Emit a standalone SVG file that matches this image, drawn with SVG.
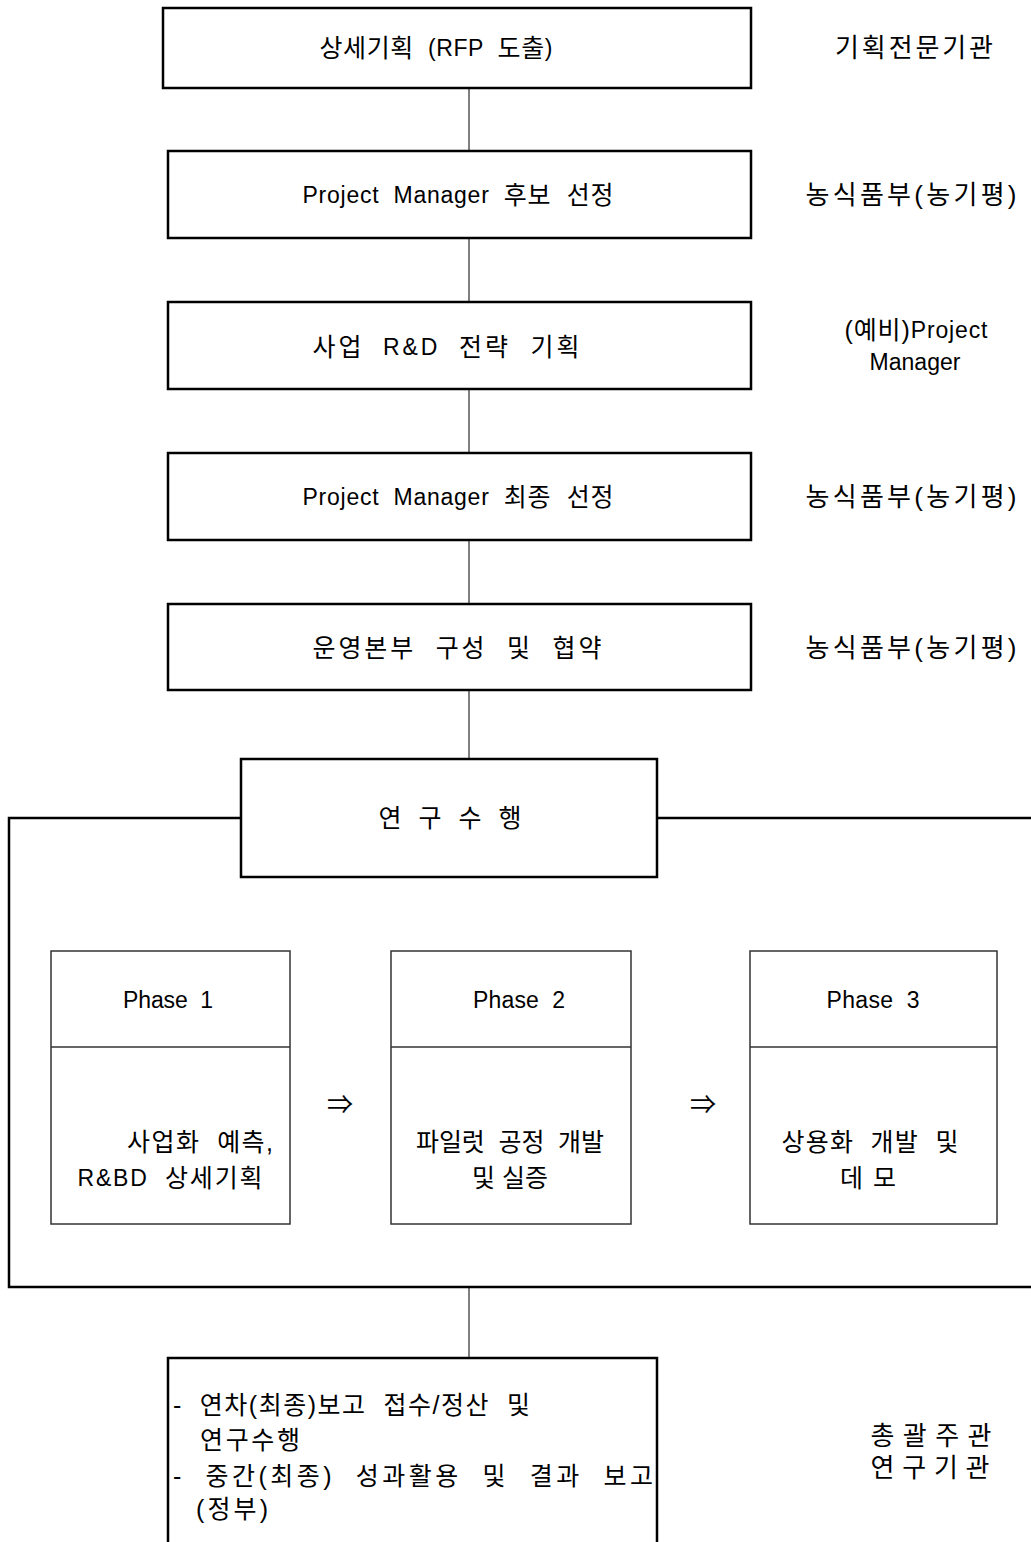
<svg xmlns="http://www.w3.org/2000/svg" width="1031" height="1542" viewBox="0 0 1031 1542">
<style>
text{font-family:"Liberation Sans","Noto Sans CJK KR",sans-serif;font-size:23px;fill:#000;white-space:pre;}
.k{font-size:25px;}
.c{text-anchor:middle;dominant-baseline:central;}
.l{dominant-baseline:central;font-size:25px;}
.lab{font-size:26px;}
.box{fill:#fff;stroke:#000;stroke-width:2.5;}
.ph{fill:#fff;stroke:#333;stroke-width:1.5;}
.ln{stroke:#000;stroke-width:1;fill:none;}
.big{stroke:#000;stroke-width:2.5;fill:none;}
</style>
<rect width="1031" height="1542" fill="#fff"/>
<g id="connectors">
<line class="ln" x1="469" y1="88" x2="469" y2="151"/>
<line class="ln" x1="469" y1="238" x2="469" y2="302"/>
<line class="ln" x1="469" y1="389" x2="469" y2="453"/>
<line class="ln" x1="469" y1="540" x2="469" y2="604"/>
<line class="ln" x1="469" y1="690" x2="469" y2="759"/>
<line class="ln" x1="469" y1="1287" x2="469" y2="1358"/>
</g>
<g id="frame">
<polyline class="big" points="241,818 9,818 9,1287 1040,1287"/>
<line class="big" x1="657" y1="818" x2="1040" y2="818"/>
</g>
<g id="n1"><rect class="box" x="163" y="8" width="588" height="80"/><text class="c" x="436" y="48" textLength="233"><tspan class="k">상세기획</tspan>  (RFP  <tspan class="k">도출</tspan>)</text></g>
<g id="n2"><rect class="box" x="168" y="151" width="583" height="87"/><text class="c" x="458" y="195" textLength="311">Project  Manager  <tspan class="k">후보  선정</tspan></text></g>
<g id="n3"><rect class="box" x="168" y="302" width="583" height="87"/><text class="c" x="446" y="347" textLength="267"><tspan class="k">사업</tspan>  R&amp;D  <tspan class="k">전략  기획</tspan></text></g>
<g id="n4"><rect class="box" x="168" y="453" width="583" height="87"/><text class="c" x="458" y="497" textLength="311">Project  Manager  <tspan class="k">최종  선정</tspan></text></g>
<g id="n5"><rect class="box" x="168" y="604" width="583" height="86"/><text class="c k" x="457" y="648" textLength="289">운영본부  구성  및  협약</text></g>
<g id="n6"><rect class="box" x="241" y="759" width="416" height="118"/><text class="c k" x="450" y="818" textLength="143">연  구  수  행</text></g>
<g id="p1"><rect class="ph" x="51" y="951" width="239" height="273"/><line class="ph" x1="51" y1="1047" x2="290" y2="1047"/><text class="c" x="168" y="1000" textLength="90">Phase  1</text><text class="c k" x="200" y="1142" textLength="146">사업화  예측,</text><text class="c" x="170" y="1178" textLength="185">R&amp;BD  <tspan class="k">상세기획</tspan></text></g>
<g id="p2"><rect class="ph" x="391" y="951" width="240" height="273"/><line class="ph" x1="391" y1="1047" x2="631" y2="1047"/><text class="c" x="519" y="1000" textLength="92">Phase  2</text><text class="c k" x="510" y="1142" textLength="188">파일럿  공정  개발</text><text class="c k" x="510" y="1178">및 실증</text></g>
<g id="p3"><rect class="ph" x="750" y="951" width="247" height="273"/><line class="ph" x1="750" y1="1047" x2="997" y2="1047"/><text class="c" x="873" y="1000" textLength="93">Phase  3</text><text class="c k" x="870" y="1142" textLength="177">상용화  개발  및</text><text class="c k" x="868" y="1178" textLength="56">데모</text></g>
<g id="arrows"><text class="c" x="340" y="1105" style="font-size:26px">⇒</text><text class="c" x="703" y="1105" style="font-size:26px">⇒</text></g>
<g id="n7"><rect class="box" x="168" y="1358" width="489" height="200"/>
<text class="l" x="173" y="1405" textLength="357">-  연차(최종)보고  접수/정산  및</text>
<text class="l" x="200" y="1440" textLength="100">연구수행</text>
<text class="l" x="173" y="1476" textLength="480">-  중간(최종)  성과활용  및  결과  보고</text>
<text class="l" x="196" y="1509" textLength="72">(정부)</text>
</g>
<g id="labels">
<text class="c lab" x="914" y="48" textLength="158">기획전문기관</text>
<text class="c lab" x="911" y="195" textLength="211">농식품부(농기평)</text>
<text class="c" x="916" y="330" textLength="143"><tspan class="k">(예비)</tspan>Project</text>
<text class="c" x="915" y="362" textLength="91">Manager</text>
<text class="c lab" x="911" y="497" textLength="211">농식품부(농기평)</text>
<text class="c lab" x="911" y="648" textLength="211">농식품부(농기평)</text>
<text class="c lab" x="931" y="1436" textLength="121">총괄주관</text>
<text class="c lab" x="930" y="1468" textLength="119">연구기관</text>
</g>
</svg>
